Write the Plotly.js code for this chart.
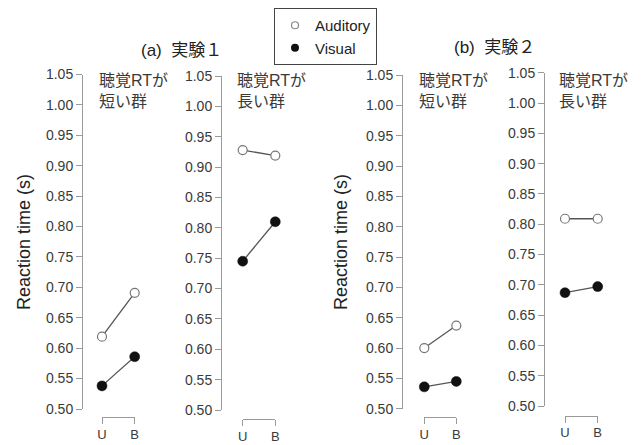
<!DOCTYPE html>
<html>
<head>
<meta charset="utf-8">
<script src="https://cdn.plot.ly/plotly-3.0.1.min.js"></script>
<style>
  html, body { margin: 0; padding: 0; background: #fff; }
  #chart { width: 641px; height: 445px; }
</style>
</head>
<body>
<div id="chart"></div>
<script>
// Conditions on the x axis of every panel
const conditions = ['U', 'B'];

// Group labels shown inside each panel
const groupLabels = ['聴覚RTが<br>短い群', '聴覚RTが<br>長い群', '聴覚RTが<br>短い群', '聴覚RTが<br>長い群'];

// Mean reaction times (s): Experiment 1
const exp1ShortAuditory = [0.619, 0.691];
const exp1ShortVisual   = [0.538, 0.586];
const exp1LongAuditory  = [0.928, 0.919];
const exp1LongVisual    = [0.745, 0.810];

// Mean reaction times (s): Experiment 2
const exp2ShortAuditory = [0.600, 0.637];
const exp2ShortVisual   = [0.536, 0.545];
const exp2LongAuditory  = [0.809, 0.809];
const exp2LongVisual    = [0.687, 0.697];

const auditorySeries = [exp1ShortAuditory, exp1LongAuditory, exp2ShortAuditory, exp2LongAuditory];
const visualSeries   = [exp1ShortVisual, exp1LongVisual, exp2ShortVisual, exp2LongVisual];

const yTickValues = [0.50, 0.55, 0.60, 0.65, 0.70, 0.75, 0.80, 0.85, 0.90, 0.95, 1.00, 1.05];

// Panel geometry in pixels (figure is 641 x 445)
const W = 641, H = 445;
const panels = [
  { axisX: 82,  yTop: 74.5, yBot: 409,   xFrom: 102,   xTo: 134.7, xLineY: 417,   labelX: 97 },
  { axisX: 221, yTop: 76,   yBot: 410,   xFrom: 242.7, xTo: 275.3, xLineY: 419,   labelX: 235 },
  { axisX: 402, yTop: 75,   yBot: 408.7, xFrom: 424.3, xTo: 456.3, xLineY: 417,   labelX: 417 },
  { axisX: 544, yTop: 72.7, yBot: 406,   xFrom: 565,   xTo: 597.7, xLineY: 415.7, labelX: 557 }
];

const FONT = 'Liberation Sans, Arial, "Noto Sans CJK JP", sans-serif';
const AXIS_COLOR = '#9a9a9a';
const TEXT_COLOR = '#3a3a3a';
const px = v => v / W;
const py = v => 1 - v / H;

const traces = [];
const layout = {
  width: W, height: H,
  margin: { l: 0, r: 0, t: 0, b: 0 },
  paper_bgcolor: '#ffffff',
  plot_bgcolor: 'rgba(0,0,0,0)',
  font: { family: FONT, color: TEXT_COLOR, size: 14 },
  showlegend: true,
  legend: {
    x: px(274), y: py(8), xanchor: 'left', yanchor: 'top',
    bgcolor: '#ffffff', bordercolor: '#444', borderwidth: 1,
    font: { family: FONT, size: 15, color: '#222' },
    tracegroupgap: 0, itemwidth: 30
  },
  annotations: [],
  hovermode: false
};

const openMarker = { symbol: 'circle', size: 9, color: '#ffffff', line: { color: '#777777', width: 1.2 } };
const filledMarker = { symbol: 'circle', size: 10, color: '#111111', line: { color: '#111111', width: 0.5 } };
const seriesLine = { color: '#555555', width: 1.3 };

panels.forEach((p, i) => {
  const n = i + 1;
  const xa = 'x' + n, ya = 'y' + n;
  const xKey = n === 1 ? 'xaxis' : 'xaxis' + n;
  const yKey = n === 1 ? 'yaxis' : 'yaxis' + n;

  layout[xKey] = {
    domain: [px(p.xFrom), px(p.xTo)],
    range: [1, 2],
    anchor: 'free',
    position: py(p.xLineY),
    showline: true, linecolor: AXIS_COLOR, linewidth: 1,
    ticks: 'outside', ticklen: 6, tickcolor: AXIS_COLOR, tickwidth: 1,
    tickvals: [1, 2], ticktext: conditions,
    tickfont: { family: FONT, size: 13, color: TEXT_COLOR },
    ticklabelstandoff: -1,
    showgrid: false, zeroline: false, fixedrange: true
  };
  layout[yKey] = {
    domain: [py(p.yBot), py(p.yTop)],
    range: [0.5, 1.05],
    anchor: 'free',
    position: px(p.axisX),
    showline: true, linecolor: AXIS_COLOR, linewidth: 1,
    ticks: 'outside', ticklen: 6, tickcolor: AXIS_COLOR, tickwidth: 1,
    tickvals: yTickValues, tickformat: '.2f',
    tickfont: { family: FONT, size: 14, color: TEXT_COLOR },
    showgrid: false, zeroline: false, fixedrange: true
  };

  traces.push({
    x: [1, 2], y: auditorySeries[i], xaxis: xa, yaxis: ya,
    mode: 'lines+markers', line: seriesLine, marker: openMarker,
    cliponaxis: false, showlegend: false
  });
  traces.push({
    x: [1, 2], y: visualSeries[i], xaxis: xa, yaxis: ya,
    mode: 'lines+markers', line: seriesLine, marker: filledMarker,
    cliponaxis: false, showlegend: false
  });

  layout.annotations.push({
    xref: 'paper', yref: 'paper', x: px(p.labelX), y: py(91),
    xanchor: 'left', yanchor: 'middle', align: 'left', showarrow: false,
    text: groupLabels[i], font: { family: FONT, size: 16, color: TEXT_COLOR }
  });
});

// Legend entries (markers only)
traces.push({ x: [null], y: [null], mode: 'markers', name: 'Auditory', xaxis: 'x1', yaxis: 'y1',
  marker: { symbol: 'circle', size: 7, color: '#ffffff', line: { color: '#888888', width: 1.2 } } });
traces.push({ x: [null], y: [null], mode: 'markers', name: 'Visual', xaxis: 'x1', yaxis: 'y1',
  marker: { symbol: 'circle', size: 8, color: '#111111' } });

// Experiment titles
layout.annotations.push({ xref: 'paper', yref: 'paper', x: px(181), y: py(50),
  xanchor: 'center', yanchor: 'middle', showarrow: false,
  text: '(a)\u00a0 実験１', font: { family: FONT, size: 17, color: '#222' } });
layout.annotations.push({ xref: 'paper', yref: 'paper', x: px(494), y: py(48),
  xanchor: 'center', yanchor: 'middle', showarrow: false,
  text: '(b)\u00a0 実験２', font: { family: FONT, size: 17, color: '#222' } });

// Y-axis titles
[24, 341].forEach(cx => {
  layout.annotations.push({ xref: 'paper', yref: 'paper', x: px(cx), y: py(242),
    xanchor: 'center', yanchor: 'middle', showarrow: false, textangle: -90,
    text: 'Reaction time (s)', font: { family: FONT, size: 18, color: '#222' } });
});

Plotly.newPlot('chart', traces, layout, { staticPlot: true, displayModeBar: false });
</script>
</body>
</html>
